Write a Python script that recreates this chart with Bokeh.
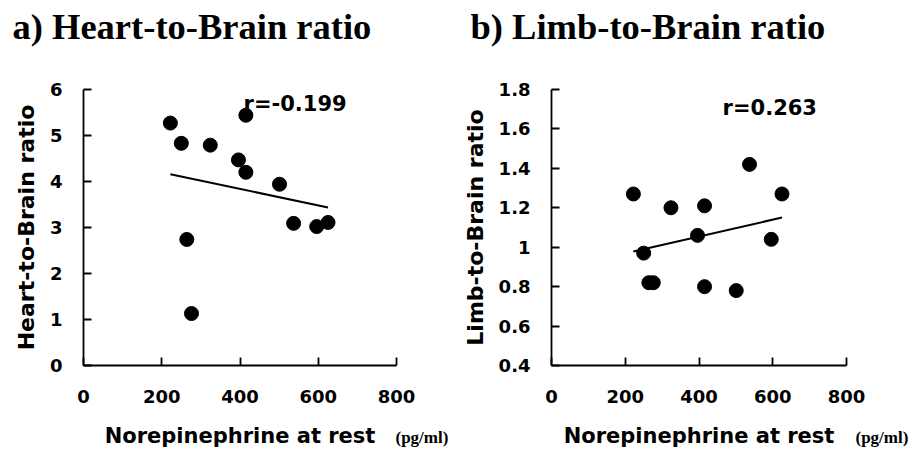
import numpy as np
from bokeh.plotting import figure
from bokeh.layouts import row, column
from bokeh.models import Range1d, FixedTicker, Label
from bokeh.embed import file_html
from bokeh.resources import INLINE

# ---- data ----
ne_rest = [222, 250, 264, 276, 324, 396, 415, 415, 501, 537, 596, 625]
heart_brain = [5.27, 4.83, 2.74, 1.13, 4.79, 4.47, 5.44, 4.20, 3.94, 3.09, 3.02, 3.11]
limb_brain = [1.27, 0.97, 0.82, 0.82, 1.20, 1.06, 1.21, 0.80, 0.78, 1.42, 1.04, 1.27]

x_ticks = [0, 200, 400, 600, 800]
heart_ticks = [0, 1, 2, 3, 4, 5, 6]
limb_ticks = [0.4, 0.6, 0.8, 1.0, 1.2, 1.4, 1.6, 1.8]
limb_tick_labels = ["0.4", "0.6", "0.8", "1", "1.2", "1.4", "1.6", "1.8"]

title_a = "a) Heart-to-Brain ratio"
title_b = "b) Limb-to-Brain ratio"
r_a = "r=-0.199"
r_b = "r=0.263"
x_label = "Norepinephrine at rest"
unit_label = "(pg/ml)"

SANS = "DejaVu Sans"
SERIF = "Liberation Serif"
TOP_H = 50
MAIN_H = 370
STRIP_H = 32


def text_strip(width, height):
    s = figure(width=width, height=height, output_backend="svg", toolbar_location=None,
               x_range=Range1d(0, width), y_range=Range1d(0, height),
               x_axis_type=None, y_axis_type=None, min_border=0)
    s.outline_line_color = None
    return s


def make_title(width, text, x):
    s = text_strip(width, TOP_H)
    s.add_layout(Label(x=x, y=24, text=text, text_font=SERIF, text_font_style="bold",
                       text_font_size="36.5px", text_color="black",
                       text_baseline="alphabetic"))
    return s


def make_panel(yvals, yrange, yticks, ylabel, rtext, rpos, width, borders,
               ylabel_standoff, overrides=None):
    p = figure(width=width, height=MAIN_H, output_backend="svg", toolbar_location=None,
               x_range=Range1d(0, 800), y_range=Range1d(*yrange),
               min_border_left=borders[0], min_border_right=borders[1],
               min_border_top=89 - TOP_H, min_border_bottom=TOP_H + MAIN_H - 365)
    p.outline_line_color = None
    p.xgrid.visible = False
    p.ygrid.visible = False

    for ax in (p.xaxis[0], p.yaxis[0]):
        ax.axis_line_width = 1.8
        ax.axis_line_color = "black"
        ax.major_tick_line_width = 1.8
        ax.major_tick_line_color = "black"
        ax.major_tick_in = 8
        ax.major_tick_out = 0
        ax.minor_tick_line_color = None
        ax.major_label_text_font = SANS
        ax.major_label_text_font_style = "bold"
        ax.major_label_text_font_size = "18px"
        ax.major_label_text_color = "black"
        ax.axis_label_text_font = SANS
        ax.axis_label_text_font_style = "bold"
        ax.axis_label_text_color = "black"

    p.xaxis.ticker = FixedTicker(ticks=x_ticks)
    p.yaxis.ticker = FixedTicker(ticks=yticks)
    if overrides:
        p.yaxis.major_label_overrides = overrides
    p.xaxis.major_label_standoff = 24
    p.yaxis.major_label_standoff = 21
    p.yaxis.axis_label = ylabel
    p.yaxis.axis_label_text_font_size = "22px"
    p.yaxis.axis_label_standoff = ylabel_standoff

    slope, intercept = np.polyfit(ne_rest, yvals, 1)
    xs = [min(ne_rest), max(ne_rest)]
    p.line(xs, [slope * v + intercept for v in xs], line_color="black", line_width=2)
    p.scatter(ne_rest, yvals, size=14, fill_color="black", line_color="black")

    p.add_layout(Label(x=rpos[0], y=rpos[1], text=rtext, text_font=SANS,
                       text_font_style="bold", text_font_size="21px",
                       text_color="black", text_baseline="alphabetic"))
    return p


def make_strip(width, label_center, unit_left):
    # strip under a panel carrying the x-axis title and its unit, in pixel coordinates
    s = text_strip(width, STRIP_H)
    s.add_layout(Label(x=label_center, y=17, text=x_label, text_font=SANS,
                       text_font_style="bold", text_font_size="21px",
                       text_color="black", text_align="center",
                       text_baseline="alphabetic"))
    s.add_layout(Label(x=unit_left, y=15, text=unit_label, text_font=SERIF,
                       text_font_style="bold", text_font_size="17px",
                       text_color="black", text_baseline="alphabetic"))
    return s


ta = make_title(463, title_a, 12)
tb = make_title(460, title_b, 7)
pa = make_panel(heart_brain, (0, 6), heart_ticks, "Heart-to-Brain ratio",
                r_a, (409, 5.674), 440, (83, 44), 8)
pb = make_panel(limb_brain, (0.4, 1.8), limb_ticks, "Limb-to-Brain ratio",
                r_b, (464, 1.704), 483, (111, 77), 8,
                overrides=dict(zip(limb_ticks, limb_tick_labels)))
sa = make_strip(463, 239.5, 395)
sb = make_strip(460, 235.5, 392)

layout = column(row(ta, tb), row(pa, pb), row(sa, sb))
open("out.html", "w").write(file_html(layout, INLINE))
